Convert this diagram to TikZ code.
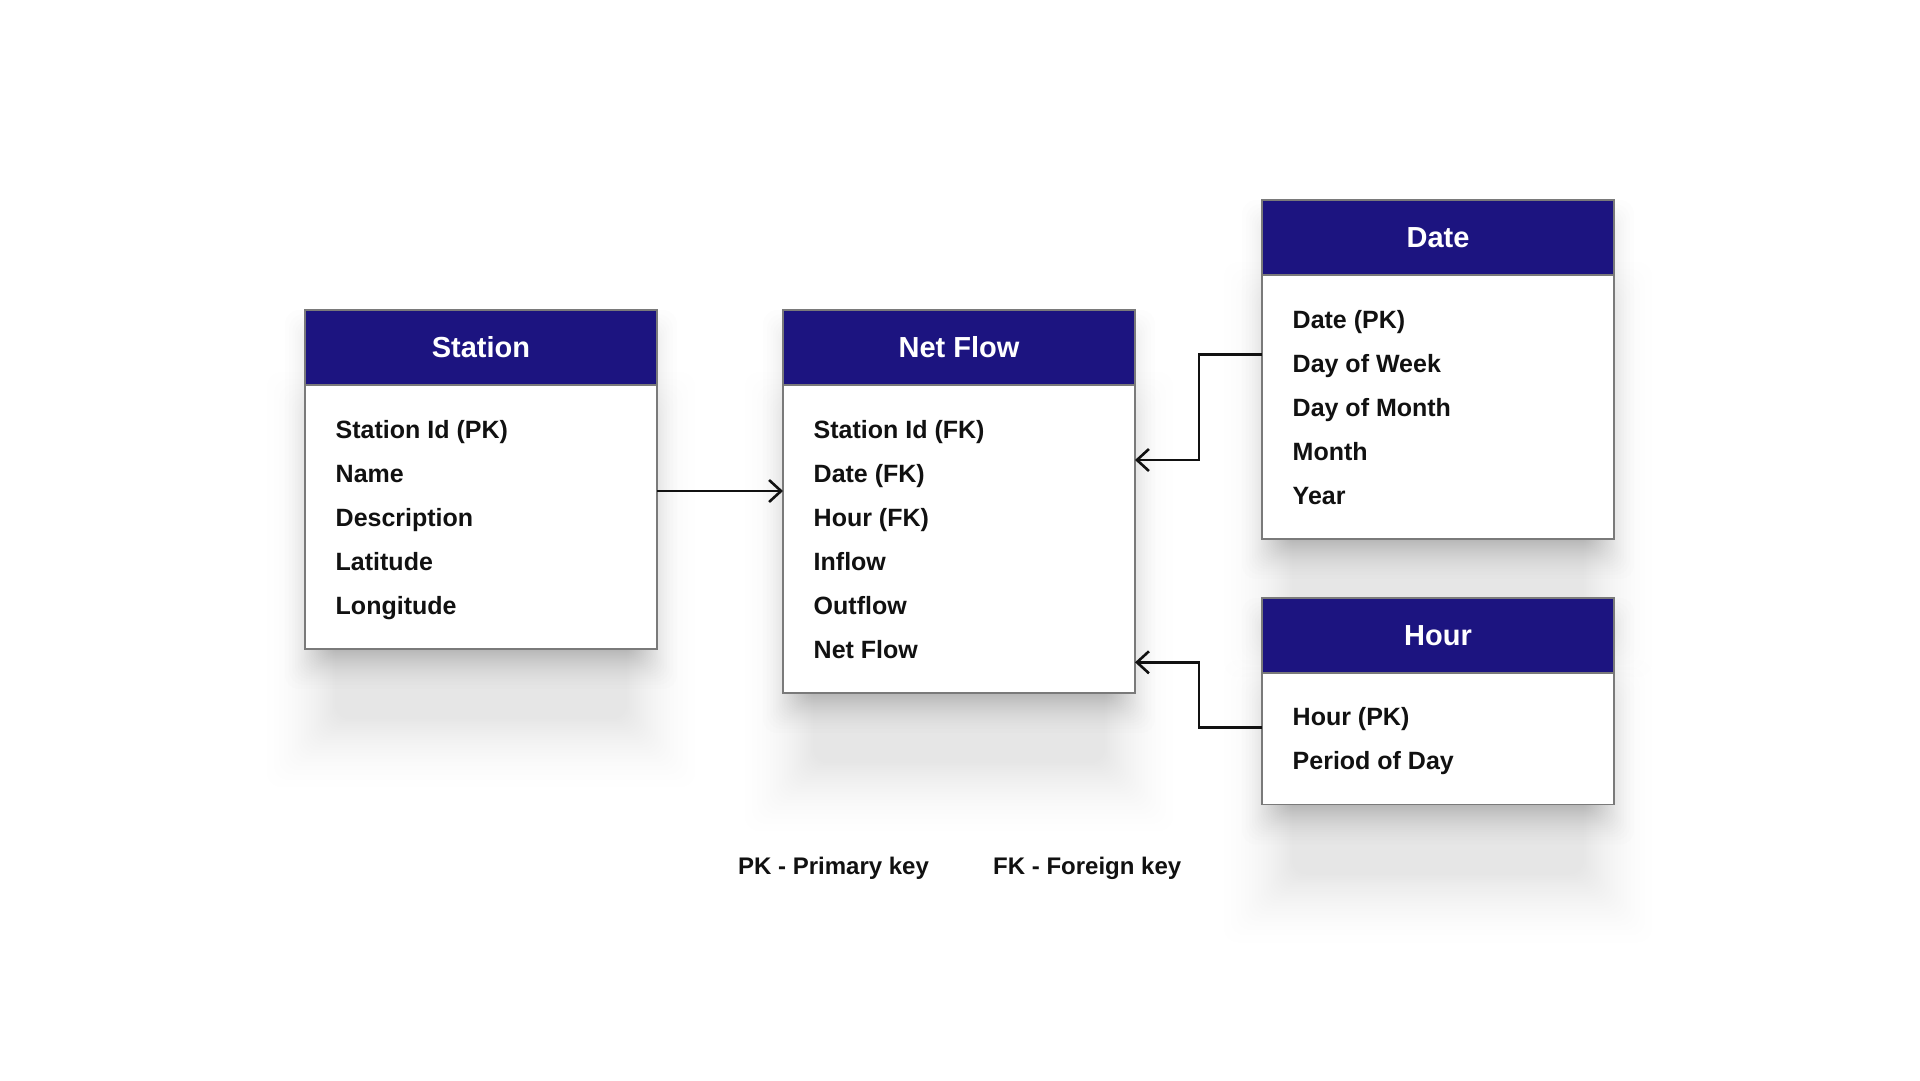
\documentclass[tikz,border=0pt]{standalone}
\usepackage{fontspec}
\setmainfont{Liberation Sans}
\usetikzlibrary{arrows.meta,calc}
\pgfdeclarelayer{paper}
\pgfdeclarelayer{shade}
\pgfsetlayers{paper,shade,main}
\definecolor{navy}{HTML}{1C1480}
\definecolor{edgegray}{HTML}{7A7A7A}
\definecolor{ink}{HTML}{111111}
\tikzset{
  card/.style={draw=edgegray, line width=1.5pt, fill=white, minimum width=352pt,
    inner sep=0pt, outer sep=0pt, anchor=north west},
  head/.style={draw=edgegray, line width=1.5pt, fill=navy, minimum width=352pt,
    minimum height=75pt, inner sep=0pt, outer sep=0pt, anchor=north west,
    text=white, text height=20.8pt, text depth=0pt,
    font=\fontsize{29}{34}\selectfont\bfseries},
  row/.style={anchor=base west, inner sep=0pt, text=ink,
    font=\fontsize{25}{30}\selectfont\bfseries},
  legendtext/.style={anchor=base west, inner sep=0pt, text=ink,
    font=\fontsize{24}{28}\selectfont\bfseries},
  conn/.style={draw=ink, line width=2.6pt,
    -{Straight Barb[length=12pt, width=22pt, line width=2.6pt]}},
  shadestep/.style={fill=black, fill opacity=#1, draw=none, rounded corners=14pt},
}
% #1 node, #2 y offset, #3 inner spread, #4 steps, #5 outer spread, #6 opacity
\newcommand\cardshade[6]{%
  \foreach \k in {1,...,#4}{%
    \pgfmathsetmacro\e{#3+(#5-(#3))*(1-sqrt(\k/#4))}%
    \fill[shadestep=#6] ($(#1.north west)+(-\e,{#2-\e})$) rectangle
                        ($(#1.south east)+(\e,{#2+\e})$);
  }%
}
\newcommand\fullshade[1]{%
  \cardshade{#1}{20}{-20}{25}{30}{0.009}%
  \cardshade{#1}{100}{-30}{25}{55}{0.0035}%
}
\begin{document}
\begin{tikzpicture}[x=1pt,y=-1pt]
\useasboundingbox (0,0) rectangle (1920,1080);
\begin{pgfonlayer}{paper}
\fill[white] (0,0) rectangle (1920,1080);
\end{pgfonlayer}

% Station
\node[card, minimum height=339pt] (st) at (305,310) {};
\node[head] (sth) at (305,310) {Station};
\foreach \t [count=\i] in {Station Id (PK),Name,Description,Latitude,Longitude}
  \node[row] (st-\i) at (335.5,{394+44*\i}) {\t};

% Net Flow
\node[card, minimum height=383pt] (nf) at (783,310) {};
\node[head] (nfh) at (783,310) {Net Flow};
\foreach \t [count=\i] in {Station Id (FK),Date (FK),Hour (FK),Inflow,Outflow,Net Flow}
  \node[row] (nf-\i) at (813.5,{394+44*\i}) {\t};

% Date
\node[card, minimum height=339pt] (dt) at (1262,200) {};
\node[head] (dth) at (1262,200) {Date};
\foreach \t [count=\i] in {Date (PK),Day of Week,Day of Month,Month,Year}
  \node[row] (dt-\i) at (1292.5,{284+44*\i}) {\t};

% Hour
\node[card, minimum height=206.5pt] (hr) at (1262,598) {};
\node[head] (hrh) at (1262,598) {Hour};
\foreach \t [count=\i] in {Hour (PK),Period of Day}
  \node[row] (hr-\i) at (1292.5,{681.5+44*\i}) {\t};

% Shadows
\begin{pgfonlayer}{shade}
\fullshade{st}
\fullshade{nf}
\fullshade{dt}
\fullshade{hr}
\end{pgfonlayer}

% Legend
\node[legendtext] (pk) at (738,874) {PK - Primary key};
\node[legendtext] (fk) at (993,874) {FK - Foreign key};

% Connectors
\coordinate (sA) at (0,491);
\draw[conn] (st.east |- sA) -- (nf.west |- sA);

\coordinate (dA) at (1199,354.7);
\coordinate (dB) at (1199,460);
\draw[conn] (dt.west |- dA) -- (dA) -- (dB) -- (nf.east |- dB);

\coordinate (hA) at (1199,727.7);
\coordinate (hB) at (1199,662.3);
\draw[conn] (hr.west |- hA) -- (hA) -- (hB) -- (nf.east |- hB);
\end{tikzpicture}
\end{document}
